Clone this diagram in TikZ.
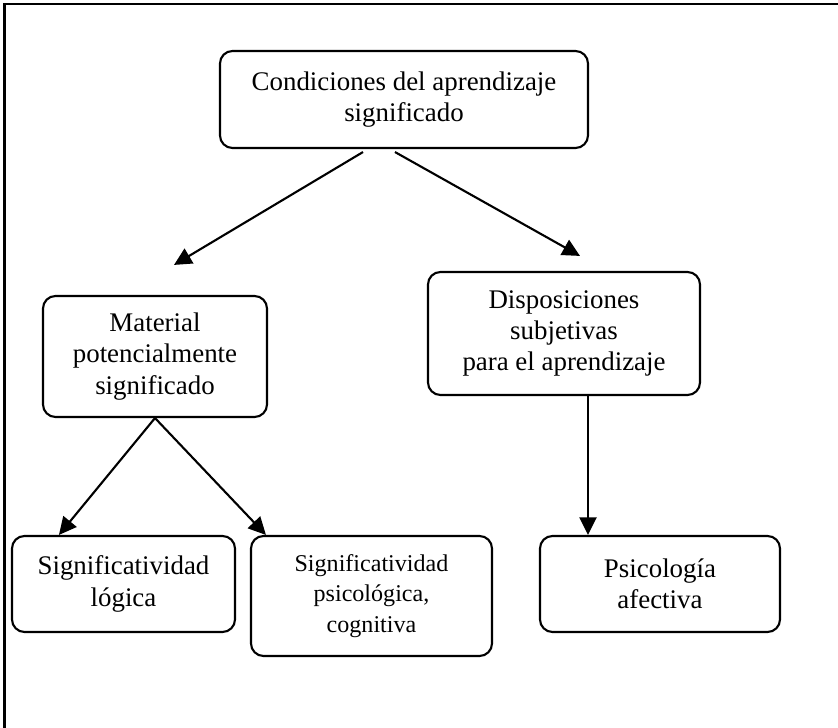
\documentclass[tikz,border=0pt]{standalone}
\usepackage{fontspec}
\setmainfont{Liberation Serif}
\usetikzlibrary{arrows.meta,positioning,calc}

\begin{document}
\begin{tikzpicture}[
    box/.style={draw, line width=1.2pt, rounded corners=0.25cm, align=center, inner sep=0pt, font=\fontsize{15.3}{17.8}\selectfont},
    smallbox/.style={box, font=\fontsize{13.7}{17.4}\selectfont},
    link/.style={line width=1.2pt, -{Triangle[length=3.5mm,width=3.4mm]}}
]
    \useasboundingbox (0,0) rectangle (16.76,14.56);
    % frame
    \draw[line width=1.2pt] (0.09,0) -- (0.09,14.48) -- (16.76,14.48);

    \node [box, minimum width=7.36cm, minimum height=1.94cm] (cond) at (8.08,12.57) {Condiciones del aprendizaje\\significado};
    \node [box, minimum width=4.48cm, minimum height=2.42cm] (mat) at (3.10,7.43) {Material\\potencialmente\\significado};
    \node [box, minimum width=5.44cm, minimum height=2.46cm] (disp) at (11.28,7.89) {Disposiciones\\subjetivas\\para el aprendizaje};
    \node [box, minimum width=4.46cm, minimum height=1.92cm] (log) at (2.47,2.88) {Significatividad\\lógica};
    \node [smallbox, minimum width=4.82cm, minimum height=2.40cm] (psi) at (7.43,2.64) {Significatividad\\psicológica,\\cognitiva};
    \node [box, minimum width=4.80cm, minimum height=1.92cm] (afe) at (13.20,2.88) {Psicología\\afectiva};

    % free arrow ends
    \coordinate (matTip) at ($(mat.north)+(0.38,0.60)$);
    \coordinate (dispTip) at ($(disp.north)+(0.32,0.30)$);

    \draw [link] ([xshift=-0.82cm,yshift=-0.06cm]cond.south) -- (matTip);
    \draw [link] ([xshift=-0.18cm,yshift=-0.06cm]cond.south) -- (dispTip);
    \draw [link] (mat.south) -- ([xshift=0.96cm]log.north west);
    \draw [link] (mat.south) -- ([xshift=0.32cm]psi.north west);
    \draw [link] ([xshift=0.48cm]disp.south) -- ([xshift=0.48cm]disp.south |- afe.north);
\end{tikzpicture}
\end{document}
